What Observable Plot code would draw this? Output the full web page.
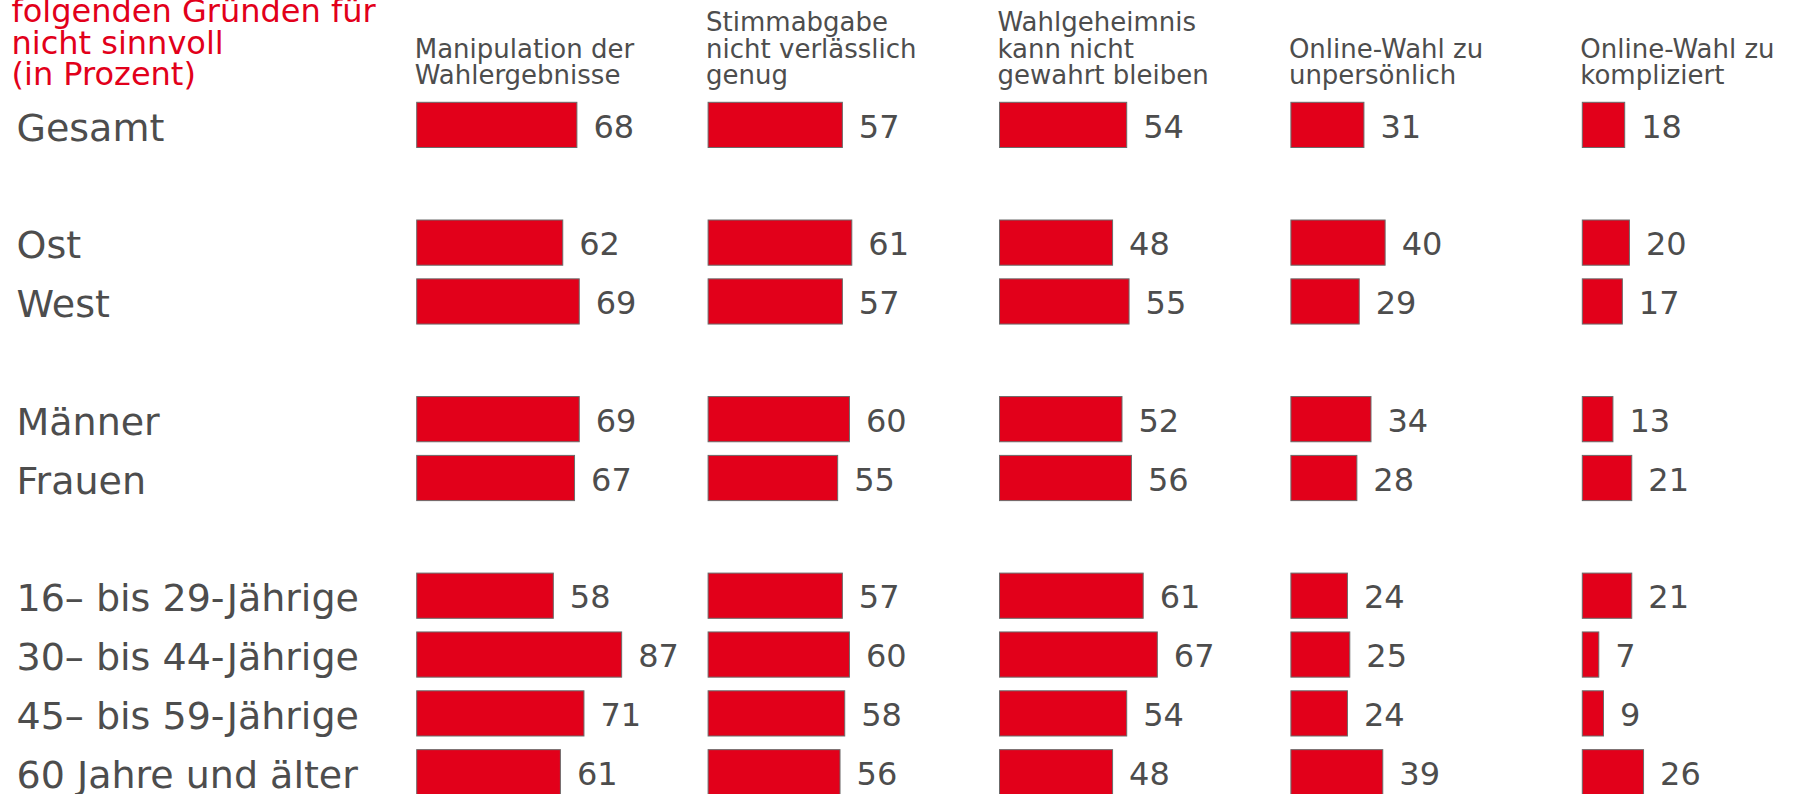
<!DOCTYPE html>
<html lang="de">
<head>
<meta charset="utf-8">
<script src="https://cdn.jsdelivr.net/npm/d3@7"></script>
<script src="https://cdn.jsdelivr.net/npm/@observablehq/plot@0.6"></script>
<style>
  html, body { margin: 0; padding: 0; background: #fff; overflow: hidden; }
  #wrap { position: relative; width: 1797px; height: 794px; overflow: hidden; }
  #title { position: absolute; left: 11.5px; top: -3.8px; font-family: "DejaVu Sans", sans-serif;
           font-size: 32px; line-height: 31.5px; color: #e2001a; white-space: nowrap; }
  #chart { position: absolute; left: 0; top: 0; }
</style>
</head>
<body>
<div id="wrap">
  <div id="chart"></div>
  <div id="title">folgenden Gründen für<br>nicht sinnvoll<br>(in Prozent)</div>
</div>
<script>
// ---- data ----
const groupBlocks = [
  ["Gesamt"],
  ["Ost", "West"],
  ["Männer", "Frauen"],
  ["16– bis 29-Jährige", "30– bis 44-Jährige", "45– bis 59-Jährige", "60 Jahre und älter"]
];
const groups = groupBlocks.flat();
const reasons = [
  "Manipulation der\nWahlergebnisse",
  "Stimmabgabe\nnicht verlässlich\ngenug",
  "Wahlgeheimnis\nkann nicht\ngewahrt bleiben",
  "Online-Wahl zu\nunpersönlich",
  "Online-Wahl zu\nkompliziert"
];
const manipulation  = [68, 62, 69, 69, 67, 58, 87, 71, 61];
const stimmabgabe   = [57, 61, 57, 60, 55, 57, 60, 58, 56];
const wahlgeheimnis = [54, 48, 55, 52, 56, 61, 67, 54, 48];
const unpersoenlich = [31, 40, 29, 34, 28, 24, 25, 24, 39];
const kompliziert   = [18, 20, 17, 13, 21, 21, 7, 9, 26];
const series = [manipulation, stimmabgabe, wahlgeheimnis, unpersoenlich, kompliziert];

// ---- table ----
const rows = reasons.flatMap((r, j) => groups.map((g, i) => ({reason: r, group: g, value: series[j][i]})));

// y domain with empty spacer slots between blocks
const yDomain = [];
groupBlocks.forEach((b, k) => { if (k > 0) yDomain.push("__gap" + k); yDomain.push(...b); });

const red = "#e2001a";
const gray = "#4d4d4d";
const colLeft = 416.7, colStep = 291.4;

const chart = Plot.plot({
  width: 1797,
  height: 794,
  marginTop: 0, marginBottom: 0, marginLeft: colLeft, marginRight: 0,
  style: {fontFamily: "DejaVu Sans, sans-serif", background: "transparent"},
  fx: {domain: reasons, range: [colLeft, colLeft + reasons.length * colStep], padding: 0, round: false, axis: null},
  x: {domain: [0, 123.7], axis: null},
  y: {type: "band", domain: yDomain, range: [88.65, 808.5], padding: 0.232, round: false, axis: null},
  marks: [
    Plot.barX(rows, {fx: "reason", y: "group", x1: 0, x2: "value", fill: red, stroke: "#6b6b6b", strokeWidth: 1}),
    Plot.text(rows, {fx: "reason", y: "group", x: "value", text: d => String(d.value),
      dx: 16, dy: 2, textAnchor: "start", fontSize: 32, fill: gray}),
    Plot.text(groups, {fx: () => reasons[0], y: d => d, text: d => d, frameAnchor: "left",
      dx: 16 - colLeft, dy: 3, textAnchor: "start", fontSize: 38, fill: gray}),
    Plot.text(reasons, {fx: d => d, text: d => d, frameAnchor: "top-left", dx: -2.5, dy: 83.5,
      lineAnchor: "bottom", textAnchor: "start", fontSize: 26, lineHeight: 1.01, fill: gray})
  ]
});
document.getElementById("chart").appendChild(chart);
</script>
</body>
</html>
